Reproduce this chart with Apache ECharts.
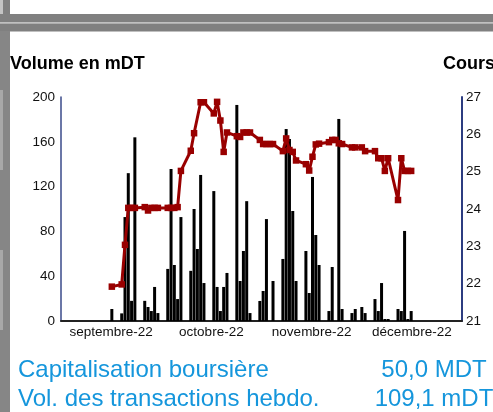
<!DOCTYPE html>
<html>
<head>
<meta charset="utf-8">
<script src="https://cdn.jsdelivr.net/npm/echarts@6/dist/echarts.min.js"></script>
<style>
  html, body { margin: 0; padding: 0; background: #fff; }
  #main { width: 493px; height: 412px; }
</style>
</head>
<body>
<div id="main"></div>
<script>
// trading days shown on the chart
const DATES = [
  '2022-09-16', '2022-09-19', '2022-09-20', '2022-09-21', '2022-09-22', '2022-09-23',
  '2022-09-26', '2022-09-27', '2022-09-28', '2022-09-29', '2022-09-30',
  '2022-10-03', '2022-10-04', '2022-10-05', '2022-10-06', '2022-10-07',
  '2022-10-10', '2022-10-11', '2022-10-12', '2022-10-13', '2022-10-14',
  '2022-10-17', '2022-10-18', '2022-10-19', '2022-10-20', '2022-10-21',
  '2022-10-24', '2022-10-25', '2022-10-26', '2022-10-27', '2022-10-28',
  '2022-10-31', '2022-11-01', '2022-11-02', '2022-11-03', '2022-11-04',
  '2022-11-07', '2022-11-08', '2022-11-09', '2022-11-10', '2022-11-11',
  '2022-11-14', '2022-11-15', '2022-11-16', '2022-11-17', '2022-11-18',
  '2022-11-21', '2022-11-22', '2022-11-23', '2022-11-24', '2022-11-25',
  '2022-11-28', '2022-11-29', '2022-12-01', '2022-12-02',
  '2022-12-05', '2022-12-06', '2022-12-07', '2022-12-08', '2022-12-09',
  '2022-12-12', '2022-12-13', '2022-12-14', '2022-12-15', '2022-12-16'
];
// volume en mDT
const VOLUME = [
  10.7, 6.8, 92.8, 132, 18, 164,
  18, 12.5, 8.9, 30.4, 7.1,
  46.5, 135.7, 50, 19.6, 92.8,
  44.8, 100, 64.3, 130.4, 33.9,
  116, 30.4, 8.9, 30.4, 42.9,
  192.9, 35.7, 62.5, 107, 7.1,
  17.9, 26.8, 91, null, 35.7,
  55.4, 171.4, 162.5, 98.2, 35.7,
  62.5, 25, 128.6, 76.8, 50,
  8.9, 48.2, null, 180.4, 10.7,
  7.1, 10.7, 12.5, 7.1,
  19.6, 8.9, 33.9, 1.8, 1.8,
  10.7, 8.9, 80.4, 1.8, 8.9
];
// cours (DT)
const COURS = [
  21.92, 21.98, 23.04, 24.03, 24.03, 24.03,
  24.05, 23.96, 24.03, 24.03, 24.03,
  24.03, 24.03, 24.03, 24.05, 25.02,
  25.56, 26.03, null, 26.86, 26.86,
  26.56, 26.87, 26.37, 25.53, 26.05,
  25.95, 25.93, 26.05, 26.05, 26.05,
  25.85, 25.74, 25.74, 25.74, 25.74,
  25.55, 25.89, 25.58, 25.53, 25.3,
  25.2, 25.03, 25.4, 25.73, 25.75,
  25.79, 25.85, 25.85, 25.76, 25.74,
  25.65, 25.65, 25.65, 25.55,
  25.55, 25.36, 25.36, 25.02, 25.36,
  24.24, 25.36, 25.02, 25.02, 25.02
];
const MONTHS = ['septembre-22', 'octobre-22', 'novembre-22', 'décembre-22'];
const VOL_TICKS = [0, 40, 80, 120, 160, 200];
const COURS_TICKS = [21, 22, 23, 24, 25, 26, 27];
const INFO = [
  ['Capitalisation boursière', '50,0 MDT'],
  ['Vol. des transactions hebdo.', '109,1 mDT']
];

var chartDom = document.getElementById('main');
var myChart = echarts.init(chartDom);
const FONT = '"Liberation Sans", Arial, sans-serif';
const RED = '#990000';

const volData = DATES.map((d, i) => [d, VOLUME[i]]);
const coursData = DATES.map((d, i) => [d, COURS[i]]);

// grey frame left over from the page around the chart
const frame = [
  [0, 0, 3, 14, '#c4c4c4'],
  [3, 0, 7, 14, '#808080'],
  [0, 14, 493, 8, '#808080'],
  [0, 22, 493, 1.5, '#c0c0c0'],
  [0, 23.5, 493, 8, '#808080'],
  [0, 31, 10, 381, '#868686'],
  [0, 90, 3, 80, '#a8a8a8'],
  [0, 250, 3, 80, '#a8a8a8']
].map(r => ({
  type: 'rect', silent: true,
  shape: { x: r[0], y: r[1], width: r[2], height: r[3] },
  style: { fill: r[4] }
}));

const texts = [
  { type: 'text', left: 10, top: 55, style: { text: 'Volume en mDT', font: 'bold 18px ' + FONT, fill: '#000' } },
  { type: 'text', left: 443, top: 55, style: { text: 'Cours', font: 'bold 18px ' + FONT, fill: '#000' } }
];
INFO.forEach((row, i) => {
  const y = 358 + i * 29;
  texts.push({ type: 'text', left: 18, top: y, style: { text: row[0], font: '24px ' + FONT, fill: '#1596dc' } });
  texts.push({ type: 'text', x: 434, y: y, style: { text: row[1], font: '24px ' + FONT, fill: '#1596dc', textAlign: 'center' } });
});

let option = {
  animation: false,
  backgroundColor: '#fff',
  grid: { left: 61, right: 31, top: 97, bottom: 91 },
  xAxis: [
    {
      type: 'time',
      min: '2022-09-01',
      max: '2022-12-31',
      axisLine: { lineStyle: { color: '#222', width: 2 } },
      axisTick: { show: false },
      axisLabel: { show: false },
      splitLine: { show: false }
    },
    {
      type: 'category',
      position: 'bottom',
      data: MONTHS,
      boundaryGap: true,
      axisLine: { show: false },
      axisTick: { show: false },
      axisLabel: { interval: 0, color: '#111', fontSize: 13.5, fontFamily: FONT, margin: 4 }
    }
  ],
  yAxis: [
    {
      type: 'value',
      min: VOL_TICKS[0],
      max: VOL_TICKS[VOL_TICKS.length - 1],
      interval: VOL_TICKS[1] - VOL_TICKS[0],
      axisLine: { show: true, lineStyle: { color: '#3a4a8a', width: 1.5 } },
      axisTick: { show: false },
      splitLine: { show: false },
      axisLabel: { color: '#111', fontSize: 13.5, fontFamily: FONT, margin: 6 }
    },
    {
      type: 'value',
      position: 'right',
      min: COURS_TICKS[0],
      max: COURS_TICKS[COURS_TICKS.length - 1],
      interval: COURS_TICKS[1] - COURS_TICKS[0],
      axisLine: { show: true, lineStyle: { color: '#2c3c80', width: 2 } },
      axisTick: { show: false },
      splitLine: { show: false },
      axisLabel: { color: '#111', fontSize: 13.5, fontFamily: FONT, margin: 4 }
    }
  ],
  series: [
    {
      type: 'bar',
      xAxisIndex: 0,
      yAxisIndex: 0,
      barWidth: 3,
      itemStyle: { color: '#000' },
      data: volData
    },
    {
      type: 'line',
      xAxisIndex: 0,
      yAxisIndex: 1,
      connectNulls: true,
      symbol: 'rect',
      symbolSize: 6.5,
      showAllSymbol: true,
      lineStyle: { color: RED, width: 3 },
      itemStyle: { color: RED },
      data: coursData
    }
  ],
  graphic: frame.concat(texts)
};
option && myChart.setOption(option);
</script>
</body>
</html>
